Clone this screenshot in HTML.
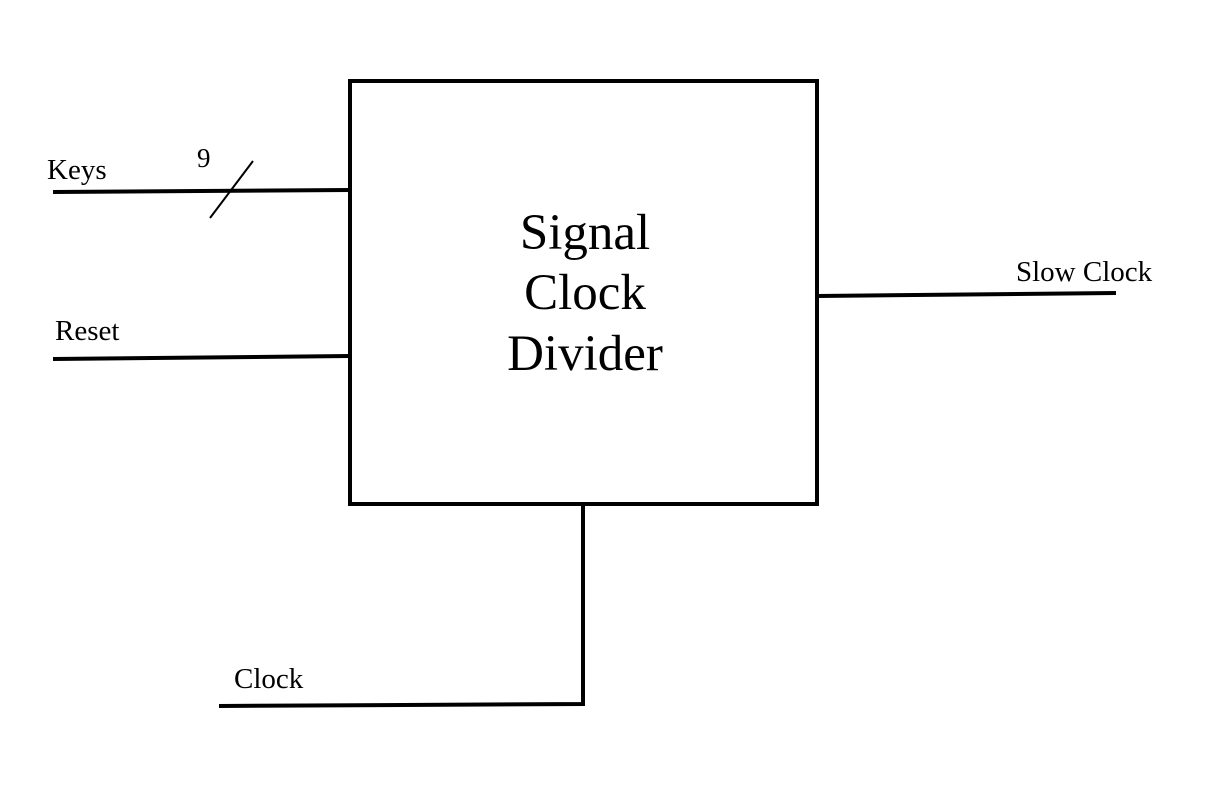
<!DOCTYPE html>
<html><head><style>html,body{margin:0;padding:0;background:#fff}svg{display:block}</style></head>
<body>
<svg width="1208" height="786" viewBox="0 0 1208 786" xmlns="http://www.w3.org/2000/svg">
<rect x="350" y="81" width="467" height="423" fill="none" stroke="#000" stroke-width="4"/>
<g stroke="#000" stroke-width="4" fill="none">
<line x1="53" y1="192" x2="350" y2="190"/>
<line x1="53" y1="359" x2="350" y2="356"/>
<line x1="817" y1="296" x2="1116" y2="293"/>
<polyline points="583,504 583,704 219,706"/>
</g>
<line x1="210" y1="218" x2="253" y2="161" stroke="#000" stroke-width="2"/>
<g font-family="Liberation Serif, serif" fill="#000">
<text x="47" y="179" font-size="29">Keys</text>
<text x="197" y="167" font-size="27">9</text>
<text x="55" y="340" font-size="29">Reset</text>
<text x="1016" y="281" font-size="29">Slow Clock</text>
<text x="234" y="688" font-size="29">Clock</text>
<g font-size="51" text-anchor="middle">
<text x="585" y="249">Signal</text>
<text x="585" y="309">Clock</text>
<text x="585" y="370">Divider</text>
</g>
</g>
</svg>
</body></html>
